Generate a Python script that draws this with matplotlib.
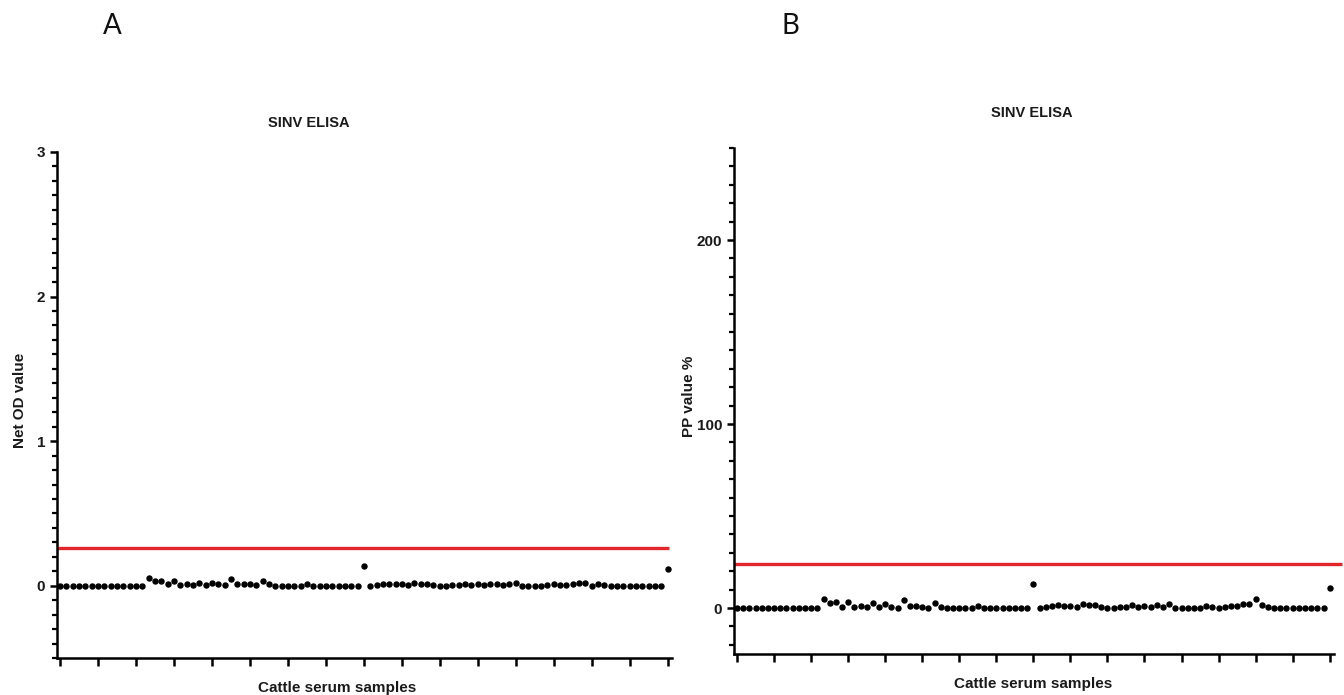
import matplotlib
matplotlib.use("Agg")
import matplotlib.pyplot as plt
from matplotlib.ticker import MultipleLocator

plt.rcParams['font.family'] = ['Liberation Sans', 'DejaVu Sans']

# sample index 0..96
samples = list(range(97))

# Net OD values (panel A)
od_values = [0, 0, 0, 0, 0, 0, 0, 0, 0, 0, 0, 0, 0, 0,
             0.05, 0.03, 0.035, 0.01, 0.03, 0.005, 0.01, 0.005, 0.02, 0.005,
             0.02, 0.01, 0.005, 0.045, 0.01, 0.01, 0.01, 0.005, 0.03, 0.01,
             0, 0, 0, 0, 0, 0.015, 0, 0, 0, 0, 0, 0, 0, 0,
             0.135,
             0, 0.005, 0.01, 0.015, 0.01, 0.01, 0.005, 0.02, 0.015, 0.015,
             0.005, 0, 0, 0.005, 0.005, 0.015, 0.005, 0.01, 0.005, 0.01,
             0.015, 0.005, 0.01, 0.02, 0, 0, 0, 0, 0.005, 0.01,
             0.005, 0.005, 0.01, 0.02, 0.02, 0, 0.015, 0.005, 0,
             0, 0, 0, 0, 0, 0, 0, 0,
             0.118]
od_cutoff = 0.26

# PP values % (panel B)
pp_values = [0, 0, 0, 0, 0, 0, 0, 0, 0, 0, 0, 0, 0, 0,
             5, 2.5, 3.5, 0.5, 3, 0.5, 1, 0.5, 2.5, 0.5,
             2, 0.5, 0, 4.5, 1, 1, 0.5, 0, 2.5, 0.5,
             0, 0, 0, 0, 0, 1, 0, 0, 0, 0, 0, 0, 0, 0,
             13,
             0, 0.5, 1, 1.5, 1, 1, 0.5, 2, 1.5, 1.5,
             0.5, 0, 0, 0.5, 0.5, 1.5, 0.5, 1, 0.5, 1.5,
             0.5, 2, 0, 0, 0, 0, 0, 1, 0.5, 0,
             0.5, 1, 1, 2, 2, 5, 1.5, 0.5, 0,
             0, 0, 0, 0, 0, 0, 0, 0,
             11]
pp_cutoff = 24

fig = plt.figure(figsize=(13.44, 6.95), dpi=100)

axA = fig.add_axes([57/1344, 1-658/695, 615/1344, 506/695])
axB = fig.add_axes([734/1344, 1-654/695, 600/1344, 506/695])

text_col = '#1a1a1a'


def style(ax):
    for s in ['top', 'right']:
        ax.spines[s].set_visible(False)
    for s in ['left', 'bottom']:
        ax.spines[s].set_linewidth(1.8)
    ax.tick_params(axis='y', which='major', length=5, width=1.8, labelsize=11,
                   labelcolor=text_col)
    ax.tick_params(axis='y', which='minor', length=3.5, width=1.6)
    ax.tick_params(axis='x', which='major', length=6, width=1.8, labelbottom=False)
    ax.xaxis.set_major_locator(MultipleLocator(6))
    ax.set_xlim(-0.5, 96.7)
    for lab in ax.get_yticklabels():
        lab.set_fontweight('bold')


# Panel A
axA.hlines(od_cutoff, -0.5, 96.3, color='#e3262b', lw=2.4, zorder=2)
axA.plot(samples, od_values, 'o', color='black', ms=3.6, zorder=3)
axA.set_ylim(-0.5, 3)
axA.yaxis.set_major_locator(MultipleLocator(1))
axA.yaxis.set_minor_locator(MultipleLocator(0.1))
style(axA)
axA.set_ylabel('Net OD value', fontsize=11, fontweight='bold', color=text_col)
axA.yaxis.set_label_coords(-0.049, 0.51)
axA.set_xlabel('Cattle serum samples', fontsize=11, fontweight='bold', color=text_col)
axA.xaxis.set_label_coords(0.455, -0.045)

# Panel B
axB.hlines(pp_cutoff, -0.5, 98.0, color='#e3262b', lw=2.4, zorder=2, clip_on=False)
axB.plot(samples, pp_values, 'o', color='black', ms=3.6, zorder=3)
axB.set_ylim(-25, 250)
axB.yaxis.set_major_locator(MultipleLocator(100))
axB.yaxis.set_minor_locator(MultipleLocator(10))
style(axB)
axB.set_ylabel('PP value %', fontsize=11, fontweight='bold', color=text_col)
axB.yaxis.set_label_coords(-0.063, 0.51)
axB.set_xlabel('Cattle serum samples', fontsize=11, fontweight='bold', color=text_col)
axB.xaxis.set_label_coords(0.498, -0.045)

# titles and panel letters
fig.text(309/1344, 1-123/695, 'SINV ELISA', ha='center', va='center', fontsize=10.5,
         fontweight='bold', color=text_col)
fig.text(1032/1344, 1-113/695, 'SINV ELISA', ha='center', va='center', fontsize=10.5,
         fontweight='bold', color=text_col)
fig.text(112/1344, 1-26/695, 'A', ha='center', va='center', fontsize=20,
         family='Lato', color='#111111')
fig.text(790/1344, 1-26/695, 'B', ha='center', va='center', fontsize=20,
         family='Lato', color='#111111')

fig.savefig('out.png', dpi=100)
